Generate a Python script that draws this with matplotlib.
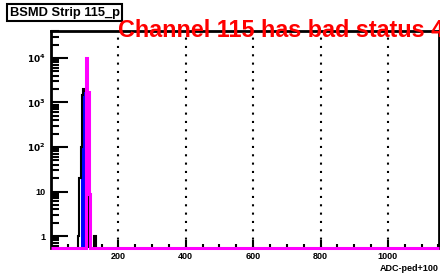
import numpy as np
import matplotlib
matplotlib.use("Agg")
import matplotlib.pyplot as plt
from matplotlib.ticker import LogLocator, FixedLocator, NullFormatter

plt.rcParams['font.family'] = ['Liberation Sans', 'DejaVu Sans']

# ---- data ----
bin_edges = np.arange(0, 1156, 4)
ped_bins = [80, 84, 88, 92, 96, 100, 104, 108, 128]
ped_counts = [1, 20, 100, 1500, 2000, 1800, 1500, 9, 1]
fill_bins = [88, 92, 96, 100]
fill_counts = [100, 1500, 2000, 1800]
raw_bins = [104, 108, 112]
raw_counts = [10000, 1700, 9]

x_ticks = [200, 400, 600, 800, 1000]
title_text = "BSMD Strip 115_p"
status_text = "Channel 115 has bad status 4"
x_label = "ADC-ped+100"

YMIN, YMAX = 0.54, 40000


def fill_hist(bins, counts):
    h = np.zeros(len(bin_edges) - 1)
    for b, c in zip(bins, counts):
        h[int(b // 4)] = c
    return h


ped = fill_hist(ped_bins, ped_counts)
fill = fill_hist(fill_bins, fill_counts)
raw = fill_hist(raw_bins, raw_counts)

fig = plt.figure(figsize=(4.4, 2.78), dpi=100)
ax = fig.add_axes([0.116, 0.108, 0.882, 0.78])

# histograms
ax.stairs(np.clip(fill, YMIN * 0.5, None), bin_edges, fill=True, color="blue", baseline=YMIN * 0.5, zorder=2)
ax.stairs(np.clip(ped, YMIN * 0.5, None), bin_edges, color="black", lw=1.5, baseline=None, zorder=3)
ax.stairs(np.clip(raw, YMIN, None), bin_edges, color="magenta", lw=2.2, baseline=None, zorder=4, clip_on=False)

ax.set_yscale("log")
ax.set_xlim(0, 1152)
ax.set_ylim(YMIN, YMAX)

# grid on x only, dotted
ax.xaxis.set_major_locator(FixedLocator(x_ticks))
ax.xaxis.set_minor_locator(FixedLocator(np.arange(50, 1152, 50)))
ax.grid(True, axis="x", which="major", linestyle=(0, (1, 3)), color="black", lw=1.5)

ax.yaxis.set_major_locator(LogLocator(base=10, numticks=10))
ax.yaxis.set_minor_locator(LogLocator(base=10, subs=np.arange(2, 10), numticks=10))
ax.yaxis.set_minor_formatter(NullFormatter())


def ylab(v, pos):
    if v == 1:
        return "1"
    if v == 10:
        return "10"
    return r"$\mathbf{10^{%d}}$" % int(round(np.log10(v)))


ax.yaxis.set_major_formatter(plt.FuncFormatter(ylab))

ax.tick_params(axis="y", which="major", direction="in", length=12, width=1.5, labelsize=6.5, pad=4)
ax.tick_params(axis="y", which="minor", direction="in", length=6, width=1.5)
ax.tick_params(axis="x", which="major", direction="in", length=6, width=1.5, labelsize=6.5, pad=3)
ax.tick_params(axis="x", which="minor", direction="in", length=3, width=1.5)
for lbl in ax.get_xticklabels() + ax.get_yticklabels():
    lbl.set_fontweight("bold")

for side in ["left", "top", "right"]:
    ax.spines[side].set_linewidth(2)
ax.spines["bottom"].set_visible(False)

ax.set_xlabel(x_label, fontsize=6.5, fontweight="bold", loc="right", labelpad=2)

fig.text(0.022, 0.955, title_text, fontsize=9.3, fontweight="bold", va="center", ha="left",
         bbox=dict(boxstyle="square,pad=0.2", fc="white", ec="black", lw=1.5))
# the status text runs past the right edge, as in the original canvas
fig.text(0.268, 0.866, status_text, fontsize=16.8, fontweight="bold", color="red", va="baseline", ha="left")

fig.savefig("out.png", dpi=100)
